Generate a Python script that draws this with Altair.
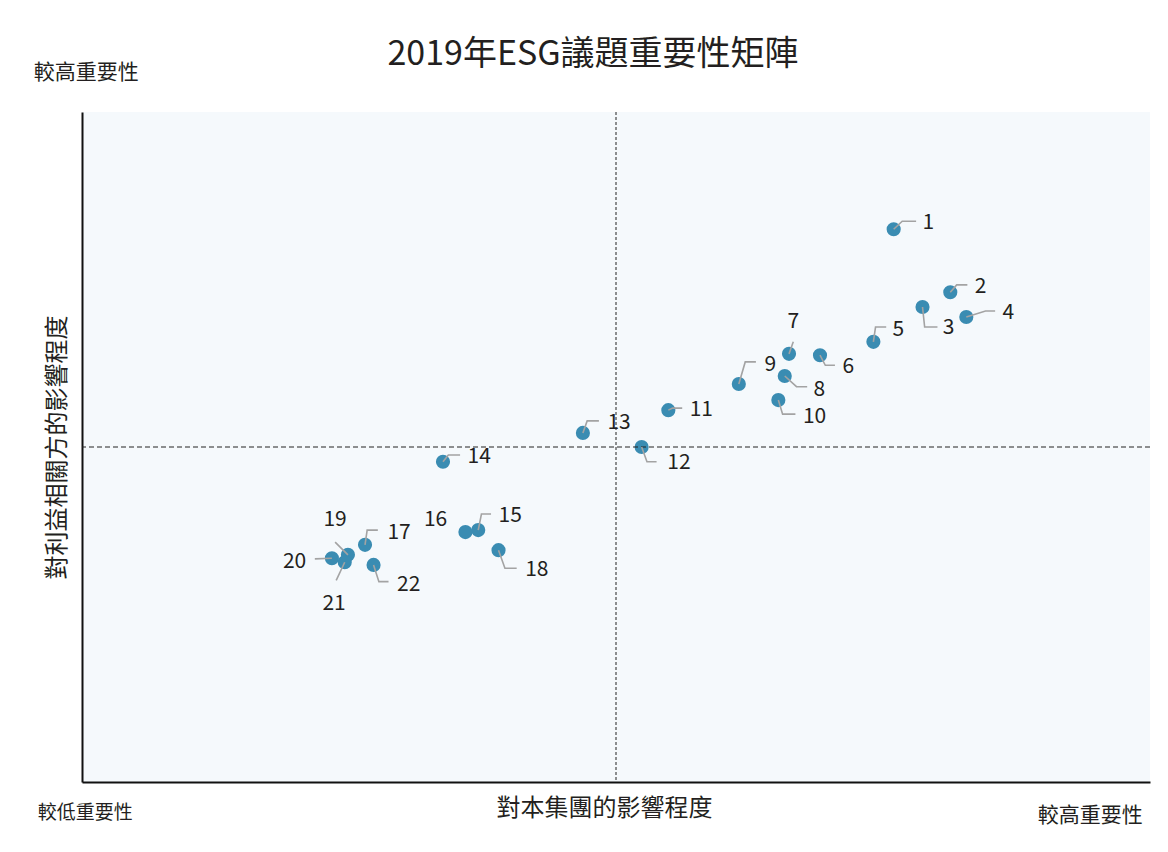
import altair as alt
import pandas as pd

FONT = "Noto Sans CJK TC"
TXT = "#231f20"

# ---- data (in the chart's own 0-10 importance scale) ----
ids = [str(i) for i in range(1, 23)]
pt_x = [7.60, 8.13, 7.87, 8.28, 7.41, 6.91, 6.62, 6.58, 6.15, 6.52, 5.49,
        5.24, 4.69, 3.38, 3.71, 3.59, 2.65, 3.90, 2.49, 2.34, 2.46, 2.73]
pt_y = [8.25, 7.31, 7.09, 6.94, 6.57, 6.37, 6.39, 6.06, 5.94, 5.70, 5.55,
        5.00, 5.21, 4.78, 3.76, 3.73, 3.54, 3.46, 3.39, 3.34, 3.28, 3.24]

# leader-line elbow and end points (None = no leader line)
elbow_x = [7.68, 8.19, 7.89, 8.46, 7.43, 6.96, 6.66, 6.69, 6.21, 6.56, 5.53,
           5.29, 4.73, 3.43, 3.74, None, 2.67, 3.96, 2.37, 2.18, 2.38, 2.78]
elbow_y = [8.37, 7.42, 6.79, 7.03, 6.79, 6.22, 6.57, 5.90, 6.27, 5.49, 5.58,
           4.78, 5.39, 4.88, 4.00, None, 3.76, 3.19, 3.58, 3.33, 3.01, 2.99]
end_x = [7.81, 8.29, 8.01, 8.55, 7.53, 7.05, 6.66, 6.79, 6.31, 6.68, 5.62,
         5.38, 4.84, 3.54, 3.83, None, 2.77, 4.07, 2.37, 2.18, 2.38, 2.87]
end_y = [8.37, 7.42, 6.79, 7.03, 6.79, 6.22, 6.57, 5.90, 6.27, 5.49, 5.58,
         4.78, 5.39, 4.88, 4.00, None, 3.76, 3.19, 3.58, 3.33, 3.01, 2.99]

# label anchors
lab_x = [7.87, 8.36, 8.06, 8.62, 7.59, 7.12, 6.66, 6.85, 6.39, 6.75, 5.69,
         5.48, 4.92, 3.61, 3.90, 3.42, 2.86, 4.15, 2.37, 2.10, 2.36, 2.95]
lab_y = [8.34, 7.39, 6.78, 7.00, 6.75, 6.19, 6.87, 5.85, 6.22, 5.45, 5.55,
         4.76, 5.36, 4.85, 3.97, 3.91, 3.72, 3.16, 3.91, 3.28, 2.66, 2.94]
lab_align = ["left"] * 22
lab_align[6] = "center"   # 7
lab_align[15] = "right"   # 16
lab_align[18] = "center"  # 19
lab_align[19] = "right"   # 20
lab_align[20] = "center"  # 21

mid_x = [5]
mid_y = [5]

high_text = ["較高重要性", "較高重要性"]
high_x = [0.04, 9.44]
high_y = [10.58, -0.51]
low_text = ["較低重要性"]
low_x = [0.03]
low_y = [-0.46]

TITLE = "2019年ESG議題重要性矩陣"
X_TITLE = "對本集團的影響程度"
Y_TITLE = "對利益相關方的影響程度"

# ---- tables ----
pts = pd.DataFrame({"id": ids, "x": pt_x, "y": pt_y})
labels = pd.DataFrame({"id": ids, "x": lab_x, "y": lab_y, "align": lab_align})

rows = []
for i in range(22):
    if elbow_x[i] is None:
        continue
    rows.append({"id": ids[i], "o": 0, "x": pt_x[i], "y": pt_y[i]})
    rows.append({"id": ids[i], "o": 1, "x": elbow_x[i], "y": elbow_y[i]})
    rows.append({"id": ids[i], "o": 2, "x": end_x[i], "y": end_y[i]})
leaders = pd.DataFrame(rows)

highs = pd.DataFrame({"t": high_text, "x": high_x, "y": high_y})
lows = pd.DataFrame({"t": low_text, "x": low_x, "y": low_y})

xs = alt.Scale(domain=[0, 10], nice=False, zero=False)
ys = alt.Scale(domain=[0, 10], nice=False, zero=False)

X = alt.X("x:Q", scale=xs, axis=alt.Axis(
    title=X_TITLE, labels=False, ticks=False, grid=False,
    domainColor="#111111", domainWidth=2,
    titleFont=FONT, titleFontSize=24, titleFontWeight="normal", titleColor=TXT,
    titleX=522, titleY=26, titleBaseline="middle", titleAlign="center"))
Y = alt.Y("y:Q", scale=ys, axis=alt.Axis(
    title=Y_TITLE, labels=False, ticks=False, grid=False,
    domainColor="#111111", domainWidth=2,
    titleFont=FONT, titleFontSize=24, titleFontWeight="normal", titleColor=TXT,
    titleX=-25, titleY=335, titleBaseline="middle", titleAlign="center",
    titleAngle=270))

base_x = alt.X("x:Q", scale=xs)
base_y = alt.Y("y:Q", scale=ys)

vline = alt.Chart(pd.DataFrame({"x": mid_x})).mark_rule(
    color="#222222", strokeWidth=1, strokeDash=[3, 2]).encode(x=base_x)
hline = alt.Chart(pd.DataFrame({"y": mid_y})).mark_rule(
    color="#222222", strokeWidth=1, strokeDash=[5, 3]).encode(y=base_y)

points = alt.Chart(pts).mark_circle(size=200, opacity=1, color="#3a8cb2").encode(
    x=X, y=Y)

lines = alt.Chart(leaders).mark_line(color="#a3a3a3", strokeWidth=1.6).encode(
    x=base_x, y=base_y, detail="id:N", order="o:Q")

def lab_layer(al):
    return alt.Chart(labels).transform_filter(
        alt.datum.align == al
    ).mark_text(align=al, baseline="middle", font=FONT, fontSize=21,
                color=TXT).encode(x=base_x, y=base_y, text="id:N")

high_layer = alt.Chart(highs).mark_text(
    align="center", baseline="middle", font=FONT, fontSize=21, color=TXT,
    clip=False).encode(x=base_x, y=base_y, text="t:N")
low_layer = alt.Chart(lows).mark_text(
    align="center", baseline="middle", font=FONT, fontSize=19, color=TXT,
    clip=False).encode(x=base_x, y=base_y, text="t:N")

chart = alt.layer(
    points, vline, hline, lines,
    lab_layer("left"), lab_layer("center"), lab_layer("right"),
    high_layer, low_layer
).properties(
    width=1068, height=670,
    title=alt.TitleParams(TITLE, font=FONT, fontSize=34, fontWeight="normal",
                          color=TXT, anchor="middle", dx=-23, offset=-10),
    autosize=alt.AutoSizeParams(type="none"),
    padding={"left": 74, "top": 104, "right": 10, "bottom": 62},
    background="white",
).configure_view(
    fill="#f5f9fc", stroke=None
)

chart.save("out.html", embed_options={"renderer": "svg", "actions": False})
